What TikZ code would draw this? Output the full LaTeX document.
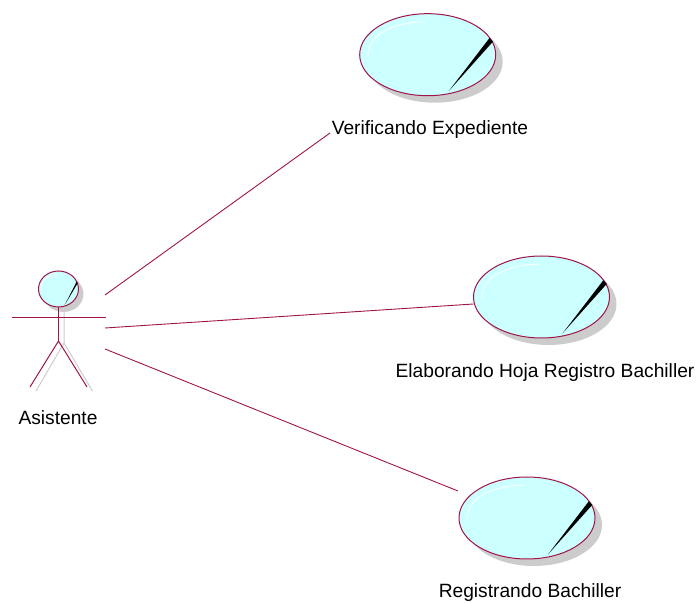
\documentclass[tikz,border=0pt]{standalone}
\usepackage{fontspec}
\setmainfont{Liberation Sans}
\usetikzlibrary{shapes.geometric,calc}
\definecolor{umlline}{HTML}{A0144A}
\definecolor{umlfill}{HTML}{CCFFFF}
\definecolor{umlshadow}{HTML}{CCCCCC}
\tikzset{
    usecase/.style={ellipse,draw=umlline,fill=umlfill,line width=1pt,inner sep=0pt},
    usecaseshadow/.style={ellipse,fill=umlshadow,inner sep=0pt},
    label/.style={font=\fontsize{19.2}{21}\selectfont,inner sep=0pt},
    assoc/.style={draw=umlline,line width=.9pt},
    limb/.style={draw=umlline,line width=1pt},
    limbshadow/.style={draw=umlshadow,line width=1pt}
}
% #1 name, #2 centre, #3 half width, #4 half height, #5 shadow offset
\newcommand{\usecasenode}[5]{
    \node [usecaseshadow,minimum width=2*#3pt,minimum height=2*#4pt] at ($(#2)+(#5pt,-#5pt)$) (#1shadow){};
    \node [usecase,minimum width=2*#3pt,minimum height=2*#4pt] at (#2) (#1){};
    \fill [black] ($(#1)+(.31*#3pt,-.886*#4pt)$) -- ($(#1)+(.91*#3pt,.41*#4pt)$) -- ($(#1)+(.96*#3pt,.32*#4pt)$) -- cycle;
    \draw [white,line width=.8pt] ($(#1)+(-.88*#3pt,-.05*#4pt)$) .. controls ($(#1)+(-.88*#3pt,.55*#4pt)$) and ($(#1)+(-.45*#3pt,.8*#4pt)$) .. ($(#1)+(-.03*#3pt,.8*#4pt)$);
}
\begin{document}
\begin{tikzpicture}[x=1pt,y=1pt]
    \useasboundingbox (0,0) rectangle (697,603);

    % actor
    \coordinate (hip) at (58.5,262);
    \coordinate (neck) at (58.5,297);
    \coordinate (lefthand) at (11.5,285);
    \coordinate (righthand) at (105.5,285);
    \coordinate (leftfoot) at (30,216);
    \coordinate (rightfoot) at (87,216);
    \draw [limbshadow] ($(neck)+(5.5,0)$) -- ($(hip)+(5.5,-2)$) -- ($(leftfoot)+(6,-4)$);
    \draw [limbshadow] ($(hip)+(5.5,-2)$) -- ($(rightfoot)+(5.5,-4)$);
    \usecasenode{head}{58.5,314}{20}{18}{5}
    \draw [limb] (head.south) -- (hip);
    \draw [limb] (lefthand) -- (righthand);
    \draw [limb] (leftfoot) -- (hip) -- (rightfoot);
    \node [label] (asistente) at (58,185) {Asistente};

    % use cases
    \usecasenode{verificando}{427.7,548.3}{68}{41}{7}
    \node [label] (verificandolabel) at (430,473) {Verificando Expediente};
    \usecasenode{elaborando}{541.5,306}{68}{41}{7}
    \node [label] (elaborandolabel) at (545,230) {Elaborando Hoja Registro Bachiller};
    \usecasenode{registrando}{527,85}{68}{41}{7}
    \node [label] (registrandolabel) at (530,10) {Registrando Bachiller};

    % associations
    \coordinate (a1) at (105,308);
    \coordinate (a2) at (105,275);
    \coordinate (a3) at (105,254);
    \coordinate (e1) at (330,470);
    \coordinate (e2) at (473.5,299);
    \coordinate (e3) at (458,112);
    \draw [assoc] (a1) -- (e1);
    \draw [assoc] (a2) -- (e2);
    \draw [assoc] (a3) -- (e3);
\end{tikzpicture}
\end{document}
